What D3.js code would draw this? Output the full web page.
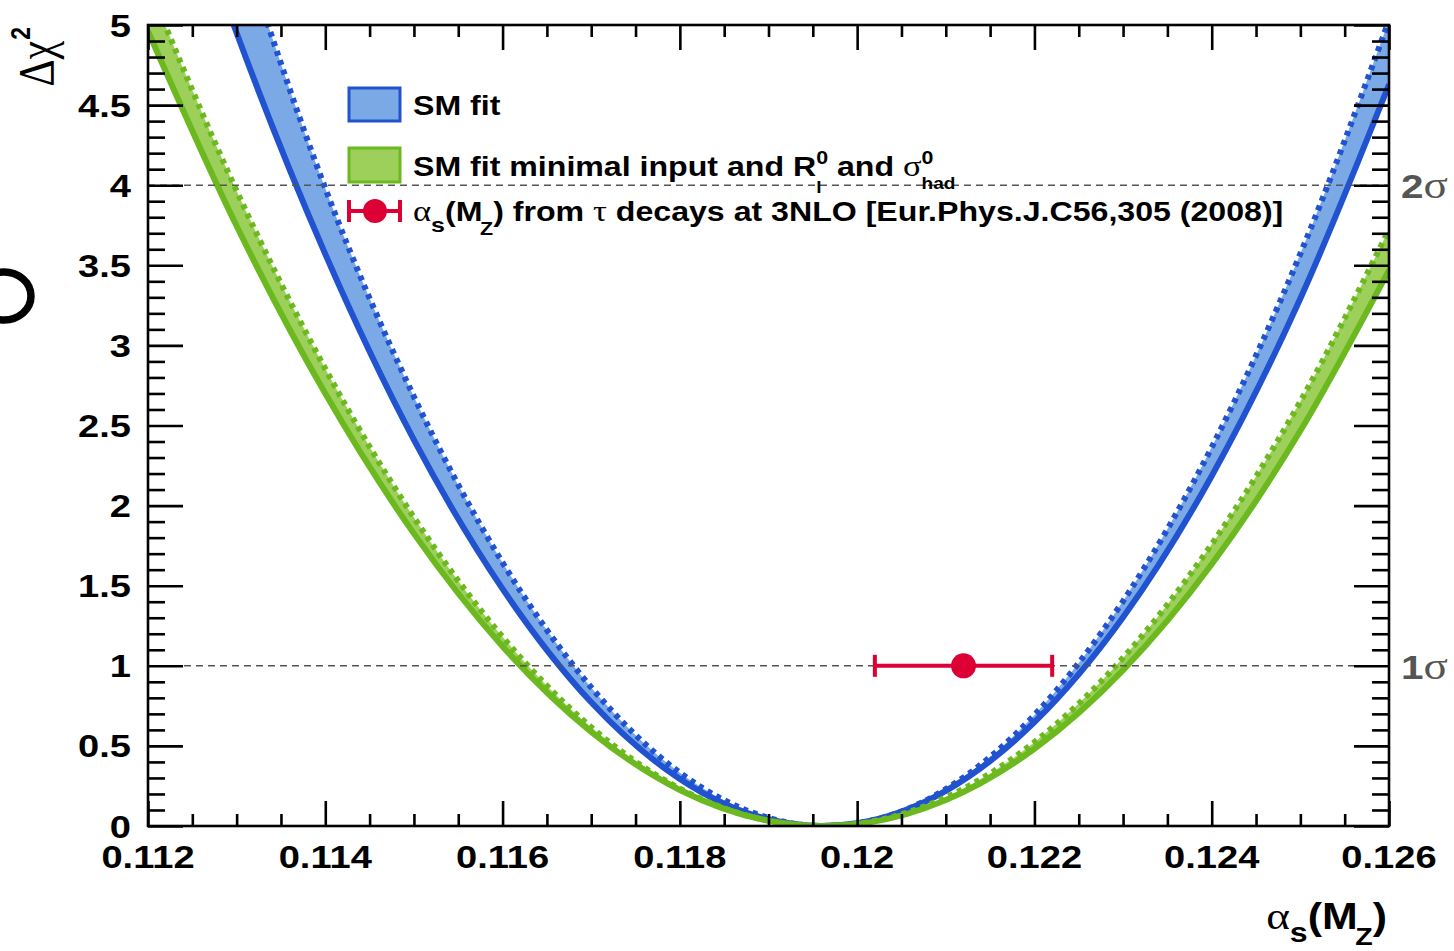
<!DOCTYPE html>
<html><head><meta charset="utf-8">
<script src="https://cdn.jsdelivr.net/npm/d3@7"></script>
<style>body{margin:0;background:#fff}svg{display:block}</style>
</head><body><svg id="c" width="1454" height="951"></svg>
<script>
// ---------------- data ----------------
const alphaS      = [0.112,0.113,0.114,0.115,0.116,0.117,0.118,0.119,0.1196,0.120,0.121,0.122,0.123,0.124,0.125,0.126];
const smFitSolid  = [6.57,4.95,3.57,2.41,1.48,0.772,0.294,0.042,0,0.017,0.219,0.648,1.303,2.185,3.293,4.629];
const smFitDotted = [7.40,5.60,3.98,2.68,1.644,0.865,0.333,0.051,0,0.016,0.230,0.693,1.404,2.364,3.572,5.029];
const minSolid    = [4.961,3.745,2.699,1.825,1.121,0.588,0.225,0.033,0,0.012,0.162,0.482,0.973,1.634,2.467,3.470];
const minDotted   = [5.256,3.964,2.854,1.926,1.180,0.616,0.233,0.033,0,0.014,0.178,0.523,1.050,1.759,2.650,3.723];
const tauAlpha = 0.1212, tauErr = 0.0010, tauChi2 = 1;
const xTicks = [0.112,0.114,0.116,0.118,0.120,0.122,0.124,0.126];
const xTickLabels = ["0.112","0.114","0.116","0.118","0.12","0.122","0.124","0.126"];
const yTicks = [0,0.5,1,1.5,2,2.5,3,3.5,4,4.5,5];
const yTickLabels = ["0","0.5","1","1.5","2","2.5","3","3.5","4","4.5","5"];
const sigmaLevels = [1,4];
const sigmaLabels = ["1","2"];

// ---------------- setup ----------------
const svg = d3.select("#c");
const SX = 1.19;
const SANS = "'Liberation Sans', Arial, Helvetica, sans-serif";
const SERIF = "'Liberation Serif', 'DejaVu Serif', serif";
const L = 148, R = 1389, T = 25, B = 826;
const x = d3.scaleLinear().domain([0.112,0.126]).range([L,R]);
const y = d3.scaleLinear().domain([0,5]).range([B,T]);

const BLUE_LINE = "#2152cf", BLUE_FILL = "#7aa9e6";
const GREEN_LINE = "#6bb91f", GREEN_FILL = "#9dd05a";
const RED = "#dc0035";

function rich(parent, px, py, segs, anchor, fill, extra) {
  const g = parent.append("g").attr("transform", `translate(${px},${py}) ` + (extra || `scale(${SX},1)`));
  const inner = g.append("g");
  let cx = 0, lastStart = 0, lastW = 0;
  segs.forEach(s => {
    const t = inner.append("text")
      .attr("y", s.shift || 0)
      .attr("font-family", s.serif ? SERIF : SANS)
      .attr("font-weight", s.serif ? "normal" : "bold")
      .attr("font-size", s.size)
      .attr("fill", fill)
      .attr("xml:space", "preserve")
      .style("white-space", "pre")
      .text(s.t);
    const w = t.node().getComputedTextLength();
    if (s.stack) {
      t.attr("x", lastStart);
      cx = lastStart + Math.max(lastW, w);
    } else {
      t.attr("x", cx + (s.dx || 0));
      lastStart = cx + (s.dx || 0); lastW = w;
      cx = lastStart + w;
    }
  });
  const off = anchor === "end" ? -cx : anchor === "middle" ? -cx / 2 : 0;
  inner.attr("transform", `translate(${off},0)`);
  return g;
}

svg.append("defs").append("clipPath").attr("id","clip")
  .append("rect").attr("x",L).attr("y",T).attr("width",R-L).attr("height",B-T);
const plot = svg.append("g").attr("clip-path","url(#clip)");

function band(lo, hi, fill, line) {
  const data = alphaS.map((a,i)=>({a, lo: lo[i], hi: hi[i]}));
  const area = d3.area().curve(d3.curveMonotoneX)
    .x(d=>x(d.a)).y0(d=>y(d.lo)).y1(d=>y(d.hi));
  plot.append("path").datum(data).attr("d", area).attr("fill", fill);
  const ln = d3.line().curve(d3.curveMonotoneX).x(d=>x(d.a));
  plot.append("path").datum(data).attr("d", ln.y(d=>y(d.lo)))
    .attr("fill","none").attr("stroke",line).attr("stroke-width",6);
  plot.append("path").datum(data).attr("d", ln.y(d=>y(d.hi)))
    .attr("fill","none").attr("stroke",line).attr("stroke-width",6)
    .attr("stroke-dasharray","5,5");
}
band(smFitSolid, smFitDotted, BLUE_FILL, BLUE_LINE);
band(minSolid, minDotted, GREEN_FILL, GREEN_LINE);

svg.selectAll(".sig").data(sigmaLevels).enter().append("line")
  .attr("x1",L).attr("x2",R).attr("y1",d=>y(d)).attr("y2",d=>y(d))
  .attr("stroke","#555").attr("stroke-width",1.5).attr("stroke-dasharray","7,5");

const tg = svg.append("g");
tg.append("line").attr("x1",x(tauAlpha-tauErr)).attr("x2",x(tauAlpha+tauErr))
  .attr("y1",y(tauChi2)).attr("y2",y(tauChi2)).attr("stroke",RED).attr("stroke-width",4);
[tauAlpha-tauErr, tauAlpha+tauErr].forEach(v=>{
  tg.append("line").attr("x1",x(v)).attr("x2",x(v)).attr("y1",y(tauChi2)-11).attr("y2",y(tauChi2)+11)
    .attr("stroke",RED).attr("stroke-width",4);
});
tg.append("circle").attr("cx",x(tauAlpha)).attr("cy",y(tauChi2)).attr("r",12.5).attr("fill",RED);

svg.append("rect").attr("x",L).attr("y",T).attr("width",R-L).attr("height",B-T)
  .attr("fill","none").attr("stroke","#000").attr("stroke-width",2.6);

function styleAxis(g){ g.select(".domain").remove(); g.selectAll("line").attr("stroke","#000").attr("stroke-width",2.6); g.selectAll("text").remove(); }
const xMinor = d3.range(0,29).map(i=>0.112+i*0.0005).filter(v=>!xTicks.some(t=>Math.abs(t-v)<1e-7));
const yMinor = d3.range(0,51).map(i=>i*0.1).filter(v=>!yTicks.some(t=>Math.abs(t-v)<1e-7));
svg.append("g").attr("transform",`translate(0,${B})`).call(d3.axisBottom(x).tickValues(xTicks).tickSize(-25)).call(styleAxis);
svg.append("g").attr("transform",`translate(0,${B})`).call(d3.axisBottom(x).tickValues(xMinor).tickSize(-12)).call(styleAxis);
svg.append("g").attr("transform",`translate(0,${T})`).call(d3.axisTop(x).tickValues(xTicks).tickSize(-25)).call(styleAxis);
svg.append("g").attr("transform",`translate(0,${T})`).call(d3.axisTop(x).tickValues(xMinor).tickSize(-12)).call(styleAxis);
svg.append("g").attr("transform",`translate(${L},0)`).call(d3.axisLeft(y).tickValues(yTicks).tickSize(-35)).call(styleAxis);
svg.append("g").attr("transform",`translate(${L},0)`).call(d3.axisLeft(y).tickValues(yMinor).tickSize(-17)).call(styleAxis);
svg.append("g").attr("transform",`translate(${R},0)`).call(d3.axisRight(y).tickValues(yTicks).tickSize(-35)).call(styleAxis);
svg.append("g").attr("transform",`translate(${R},0)`).call(d3.axisRight(y).tickValues(yMinor).tickSize(-17)).call(styleAxis);

xTicks.forEach((v,i)=> rich(svg, x(v), 868, [{t:xTickLabels[i], size:32}], "middle", "#000"));
yTicks.forEach((v,i)=> rich(svg, 131, y(v)+11.5, [{t:yTickLabels[i], size:32}], "end", "#000"));

rich(svg, 1387, 929, [
  {t:"α", serif:true, size:38},
  {t:"s", size:27, shift:13},
  {t:"(M", size:36},
  {t:"Z", size:24, shift:16, dx:-2},
  {t:")", size:36}
], "end", "#000");
rich(svg, 53, 27, [
  {t:"Δχ", serif:true, size:42},
  {t:"2", size:23, shift:-19, dx:1}
], "end", "#000", `rotate(-90) scale(1,${SX})`);

sigmaLevels.forEach((v,i)=> rich(svg, 1401, y(v)+13, [
  {t:sigmaLabels[i], size:34}, {t:"σ", serif:true, size:38}
], "start", "#555"));

const lg = svg.append("g");
lg.append("rect").attr("x",349).attr("y",88).attr("width",51).attr("height",33)
  .attr("fill",BLUE_FILL).attr("stroke",BLUE_LINE).attr("stroke-width",3);
lg.append("rect").attr("x",349).attr("y",148).attr("width",51).attr("height",34)
  .attr("fill",GREEN_FILL).attr("stroke",GREEN_LINE).attr("stroke-width",3);
lg.append("line").attr("x1",349).attr("x2",400).attr("y1",211).attr("y2",211).attr("stroke",RED).attr("stroke-width",4);
[349,400].forEach(v=> lg.append("line").attr("x1",v).attr("x2",v).attr("y1",200).attr("y2",222).attr("stroke",RED).attr("stroke-width",4));
lg.append("circle").attr("cx",375).attr("cy",211).attr("r",12).attr("fill",RED);

rich(lg, 413, 115, [{t:"SM fit", size:27}], "start", "#000");
rich(lg, 413, 176, [
  {t:"SM fit minimal input and R", size:27},
  {t:"0", size:18, shift:-12},
  {t:"l", size:16, shift:17, stack:true},
  {t:" and ", size:27},
  {t:"σ", serif:true, size:29},
  {t:"0", size:18, shift:-12},
  {t:"had", size:16, shift:13, stack:true}
], "start", "#000");
rich(lg, 413, 221, [
  {t:"α", serif:true, size:29},
  {t:"s", size:21, shift:11},
  {t:"(M", size:27},
  {t:"Z", size:18, shift:14, dx:-2},
  {t:") from ", size:27},
  {t:"τ", serif:true, size:29},
  {t:" decays at 3NLO [Eur.Phys.J.C56,305 (2008)]", size:27}
], "start", "#000");

svg.append("ellipse").attr("cx",4).attr("cy",296).attr("rx",27).attr("ry",24)
  .attr("fill","none").attr("stroke","#000").attr("stroke-width",7.5);
</script></body></html>
